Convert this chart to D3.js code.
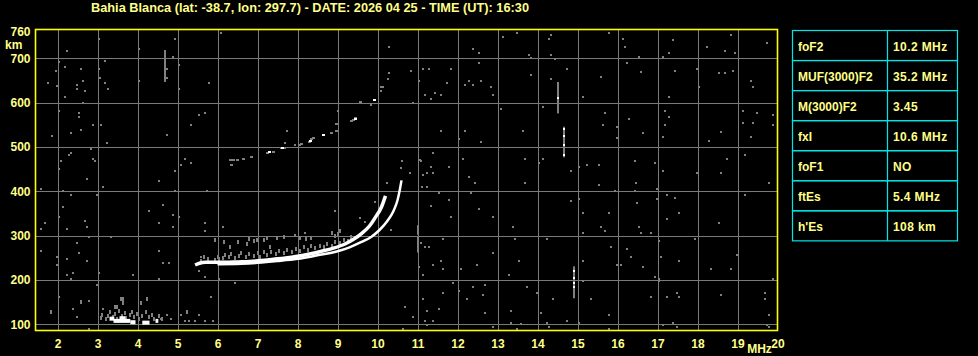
<!DOCTYPE html>
<html>
<head>
<meta charset="utf-8">
<script src="https://cdn.jsdelivr.net/npm/d3@7/dist/d3.min.js"></script>
<style>
    html, body { margin: 0; padding: 0; background: #000; }
    svg { display: block; }
    text { font-family: "Liberation Sans", Arial, sans-serif; font-weight: bold; }
</style>
</head>
<body>
<div id="chart"></div>
<script>
// ---- data ----
const title = 'Bahia Blanca (lat: -38.7, lon: 297.7) - DATE: 2026 04 25 - TIME (UT): 16:30';
const freqTicks = [2, 3, 4, 5, 6, 7, 8, 9, 10, 11, 12, 13, 14, 15, 16, 17, 18, 19, 20];
const heightTicks = [100, 200, 300, 400, 500, 600, 700];
const heightTop = 760;

// ordinary trace (MHz, km)
const oTraceFreq   = [5.44, 5.55, 5.7, 5.9, 6.2, 6.5, 6.8, 7.1, 7.4, 7.7, 8.0, 8.3, 8.6, 8.9, 9.2, 9.4, 9.6, 9.8, 9.95, 10.1, 10.2];
const oTraceHeight = [234, 238, 240, 240, 240, 241, 242, 244, 247, 250, 254, 259, 265, 272, 282, 292, 305, 322, 342, 365, 390];
// extraordinary trace
const xTraceFreq   = [6.0, 6.6, 7.0, 7.5, 8.0, 8.5, 9.0, 9.3, 9.6, 9.85, 10.05, 10.25, 10.4, 10.5, 10.56, 10.6];
const xTraceHeight = [236, 237, 239, 243, 248, 256, 265, 274, 286, 298, 313, 334, 356, 380, 405, 425];

// sporadic E segments [f0, f1, km]
const esSegments = [[3.3, 3.42, 113], [3.4, 3.82, 108], [3.55, 3.7, 114], [3.82, 3.95, 105], [4.12, 4.3, 104], [4.45, 4.52, 108]];
const esEcho = [[3.08,115],[3.12,122],[3.2,112],[3.25,120],[3.3,127],[3.38,116],[3.45,124],[3.5,113],[3.55,130],[3.6,118],
    [3.68,126],[3.72,114],[3.8,122],[3.85,128],[3.92,116],[4.0,124],[4.05,113],[4.12,120],[4.2,128],[4.28,116],[4.35,122],
    [4.42,113],[4.55,118],[4.62,113],[3.59,158],[3.64,158],[3.64,149],[4.24,158],[4.09,149],[3.44,140],[3.49,140]];

// diffuse echo above the F trace
const fSpread = [[5.6,244],[5.65,252],[5.75,248],[5.95,245],[6.0,252],[6.05,248],[6.15,250],[6.2,257],[6.3,252],[6.35,259],
    [6.45,250],[6.55,255],[6.6,261],[6.7,253],[6.8,259],[6.9,255],[7.0,260],[7.05,252],[7.15,263],[7.25,257],[7.35,263],
    [7.45,259],[7.55,265],[7.65,261],[7.75,267],[7.85,263],[7.95,270],[8.05,266],[8.15,274],[8.25,268],[8.35,276],[8.45,272],
    [8.55,278],[8.65,274],[8.75,281],[8.85,277],[8.95,286],[9.05,283],[9.15,291],[9.25,288],[9.35,297],
    [5.94,290],[6.17,286],[6.32,275],[6.52,286],[6.73,281],[6.98,290],[7.15,290],[7.32,275],[7.49,294],[7.65,298],
    [6.8,292],[6.9,288],[7.25,294],[8.05,294],[8.2,292],[8.35,295],[8.95,300],[9.0,305],[9.05,310]];

// second hop echo
const secondHop = [[6.32,471],[6.39,471],[6.34,460],[6.49,471],[6.64,474],[6.86,478],[7.25,487],[7.3,489],[7.4,489],[7.6,497],
    [7.68,499],[8.05,504],[8.1,506],[8.3,512],[8.35,518],[8.4,520],[8.65,527],[8.84,532],[8.98,537],[8.98,553],[9.35,558],
    [9.4,562],[9.45,565],[9.58,602],[9.93,606],[10.11,636]];
const secondHopBright = [[7.3,490],[7.62,498],[8.32,513],[8.66,527],[9.45,564],[9.93,606]];

// vertical interference streaks [MHz, km from, km to]
const streaks = [[4.68,647,719],[14.5,576,647],[14.66,477,546],[14.9,159,231],[11.0,302,324],[11.0,262,298]];
const streakBright = [[14.52,610],[14.66,540],[14.66,524],[14.66,505],[14.66,482],[14.92,220],[14.9,205],[14.92,193],[14.92,185]];

// scattered noise (MHz, km)
const noise = [
    [1.77,644],[1.95,672],[2.03,691],[1.99,638],[2.19,681],[2.23,717],[2.19,613],[2.48,640],[2.48,631],[2.63,650],[2.58,676],
    [2.69,627],[3.03,744],[3.03,676],[3.06,657],[3.18,694],[3.18,645],[3.25,631],[4.03,722],[4.03,650],[4.73,676],[4.73,657],
    [4.88,704],[4.94,744],[5.03,686],[5.03,631],[5.78,645],[6.09,758],[9.02,582],[9.84,595],[10.08,627],[10.14,636],
    [10.25,653],[10.29,668],[10.29,726],
    [14.29,744],[14.34,753],[14.34,708],[14.44,699],[14.74,677],[14.34,653],[13.84,662],[13.84,702],[13.79,708],[14.14,590],
    [15.14,613],[15.59,658],[15.79,757],[16.14,744],[16.19,726],[16.24,690],[16.54,703],[16.59,670],[17.14,703],[17.29,712],
    [17.39,742],[17.44,671],[17.99,677],[18.04,635],[17.29,613],[18.24,726],[18.54,667],[18.69,667],[18.69,717],[18.84,753],
    [18.89,671],[18.94,712],[19.34,649],[19.39,635],[19.74,735],[15.69,577],[15.64,550],[15.99,545],[15.99,521],[16.29,563],
    [16.64,532],[17.19,581],[17.29,568],[17.19,550],[17.14,523],[18.29,514],[18.59,535],[19.14,581],[19.14,554],[19.39,554],
    [19.49,577],[19.34,523],[19.89,572],[19.89,550],[19.19,482],[18.74,473],[16.94,464],[16.44,468],[15.54,460],[15.24,460],
    [15.04,455],[14.14,473],[14.04,464],[13.69,473],[13.64,536],[13.09,586],[13.14,748],[13.49,757],[12.54,712],[12.39,721],
    [12.54,690],[12.29,649],[12.19,640],[12.39,640],[12.59,649],[12.84,635],[12.89,617],[12.19,536],[12.59,511],[12.04,518],
    [12.14,473],[11.59,536],[11.39,486],[11.34,455],[11.09,468],[11.79,455],[11.74,644],[11.84,676],[11.44,622],[11.59,617],
    [11.19,617],[11.34,608],[11.04,649],[10.84,671],[11.14,676],[11.29,676],[10.89,599],
    [10.81,442],[11.13,437],[11.23,442],[11.38,442],[12.29,432],[12.44,419],[13.69,419],[14.84,446],[15.53,415],[16.45,419],
    [17.13,446],[17.98,442],[18.58,442],[19.79,419],[11.23,410],[11.54,397],[11.78,380],[11.33,368],[12.33,397],[12.53,361],
    [11.83,343],[12.88,343],[13.39,320],[14.83,379],[15.03,383],[15.13,352],[15.13,307],[15.59,320],[15.69,311],[15.79,352],
    [15.93,401],[16.44,401],[16.49,374],[16.99,406],[16.99,383],[17.24,392],[17.44,386],[17.54,352],[17.24,338],[16.54,320],
    [16.59,307],[16.84,307],[18.54,329],[19.19,392],[17.04,289],[17.94,293],[18.99,257],[11.63,293],[11.08,284],[11.18,275],
    [11.28,275],[12.88,262],[13.43,293],[14.23,293],[15.83,275],[16.23,271],[16.33,253],[17.08,253],[17.54,243],[16.63,230],
    [18.33,225],[18.83,225],[15.98,234],[16.08,234],[15.13,243],[13.53,243],[12.48,234],[12.08,225],[11.58,243],[11.38,234],
    [11.63,225],[11.13,212],[13.28,212],[16.94,207],[17.04,203],[19.88,203],[15.13,198],[17.04,198],[11.88,194],[12.68,189],
    [12.38,185],[13.73,185],[12.04,176],[11.63,171],[12.63,167],[13.99,171],[14.38,158],[15.33,158],[11.13,158],[12.23,158],
    [17.49,171],[17.54,162],[17.24,162],[16.84,162],[18.59,167],[19.69,171],[19.69,158],[10.69,140],[11.54,135],[11.23,131],
    [12.69,126],[13.33,131],[14.08,126],[15.78,122],[19.78,122],[10.88,117],[11.18,108],[11.38,108],[13.33,104],[13.59,102],
    [14.23,104],[14.74,108],[15.04,104],[17.39,104],[17.13,99],[12.88,95],[13.48,90],[14.28,95],[15.78,90],[17.49,95],
    [19.74,99],[19.79,95],[10.63,90],[11.23,99],
    [1.59,405],[1.86,526],[2.04,582],[2.53,576],[2.53,568],[2.63,600],[2.89,550],[3.09,550],[2.34,532],[2.59,538],[3.24,510],
    [2.84,496],[2.34,487],[2.29,483],[2.09,469],[2.04,451],[2.89,474],[2.94,469],[2.74,428],[3.14,410],[2.14,401],[2.34,392],
    [2.99,392],[2.14,365],[2.04,343],[1.69,329],[2.69,334],[2.74,320],[1.59,316],[2.24,316],[2.79,298],[3.34,298],[2.49,284],
    [2.54,262],[1.59,266],[1.99,253],[2.24,248],[4.74,528],[4.94,447],[5.09,460],[5.19,474],[5.34,465],[5.34,550],[5.54,573],
    [5.69,577],[4.54,424],[4.29,356],[4.64,370],[4.89,347],[5.04,343],[4.54,329],[4.89,320],[5.69,329],[5.69,311],[6.14,320],
    [5.74,401],[4.94,401],[4.54,266],[5.59,253],[7.74,537],[7.69,510],[7.94,505],
    [1.99,234],[2.74,243],[2.24,212],[2.39,216],[2.34,203],[3.04,216],[2.99,189],[3.89,212],[4.54,203],[4.64,239],[4.79,239],
    [2.04,162],[2.59,153],[2.59,149],[2.79,153],[2.39,135],[2.49,117],[1.84,131],[1.84,126],[2.79,90],[3.14,135],[5.84,162],
    [6.04,203],[6.44,194],[5.69,207],[5.54,221],[5.24,131],[5.24,126],[5.54,122],[5.09,122],[4.74,122],[5.19,108],[5.29,108],
    [5.44,108],[5.69,108],[5.89,108],[4.84,113],[4.59,113],
    [8.94,356],[9.57,339],[9.69,331],[9.94,377],[10.23,418],[11.07,471],[11.11,410],[10.34,313],[8.86,309],[8.86,303],
    [8.19,307],[7.94,301],[11.03,230],[10.61,469],[10.59,452]];

// scaled parameters table
const paramNames  = ['foF2', 'MUF(3000)F2', 'M(3000)F2', 'fxI', 'foF1', 'ftEs', "h'Es"];
const paramValues = ['10.2 MHz', '35.2 MHz', '3.45', '10.6 MHz', 'NO', '5.4 MHz', '108 km'];

// ---- drawing ----
const width = 978, height = 356;
const plot = {left: 35.5, right: 777.5, top: 29.5, bottom: 330.5};
const yellow = '#ffff00', labelColor = '#ffff88', gridColor = '#7a7a7a', echoGrey = '#808080', cyan = '#00e6e6';

const svg = d3.select('#chart').append('svg')
    .attr('width', width)
    .attr('height', height)
    .style('background', '#000');

const xScale = d3.scaleLinear().domain([1.45, 20]).range([plot.left, plot.right]);
const yScale = d3.scaleLinear().domain([86.3, 765.3]).range([plot.bottom, plot.top]);

// title
svg.append('text')
    .attr('x', 310)
    .attr('y', 12)
    .attr('text-anchor', 'middle')
    .attr('font-size', 13)
    .attr('textLength', 438)
    .attr('lengthAdjust', 'spacingAndGlyphs')
    .attr('fill', labelColor)
    .text(title);

// grid lines
const xGrid = d3.axisBottom(xScale)
    .tickValues(freqTicks.filter(d => d < 20))
    .tickSize(-(plot.bottom - plot.top))
    .tickFormat('');
svg.append('g')
    .attr('transform', `translate(0, ${plot.bottom})`)
    .call(xGrid)
    .call(g => g.select('.domain').remove())
    .call(g => g.selectAll('line').attr('stroke', gridColor).attr('shape-rendering', 'crispEdges'));

const yGrid = d3.axisLeft(yScale)
    .tickValues(heightTicks)
    .tickSize(-(plot.right - plot.left))
    .tickFormat('');
svg.append('g')
    .attr('transform', `translate(${plot.left}, 0)`)
    .call(yGrid)
    .call(g => g.select('.domain').remove())
    .call(g => g.selectAll('line').attr('stroke', gridColor).attr('shape-rendering', 'crispEdges'));

// tick labels
const xAxis = d3.axisBottom(xScale).tickValues(freqTicks).tickSize(0).tickPadding(9).tickFormat(d3.format('d'));
svg.append('g')
    .attr('transform', `translate(0, ${plot.bottom})`)
    .call(xAxis)
    .call(g => g.select('.domain').remove())
    .call(g => g.selectAll('text')
        .attr('fill', labelColor)
        .attr('font-size', 12)
        .attr('font-family', '"Liberation Sans", Arial, sans-serif')
        .attr('font-weight', 'bold'));

const yAxis = d3.axisLeft(yScale).tickValues(heightTicks.concat([heightTop])).tickSize(0).tickPadding(5).tickFormat(d3.format('d'));
svg.append('g')
    .attr('transform', `translate(${plot.left}, 0)`)
    .call(yAxis)
    .call(g => g.select('.domain').remove())
    .call(g => g.selectAll('text')
        .attr('fill', labelColor)
        .attr('font-size', 12)
        .attr('font-family', '"Liberation Sans", Arial, sans-serif')
        .attr('font-weight', 'bold'));

svg.append('text')
    .attr('x', 5)
    .attr('y', 48.5)
    .attr('font-size', 12)
    .attr('fill', labelColor)
    .text('km');

svg.append('text')
    .attr('x', xScale(19.55))
    .attr('y', 353)
    .attr('text-anchor', 'middle')
    .attr('font-size', 12)
    .attr('fill', labelColor)
    .text('MHz');

// echoes
const echoes = svg.append('g');

function dots(data, color, w, h) {
    echoes.selectAll(null)
        .data(data)
        .enter()
        .append('rect')
        .attr('x', d => Math.round(xScale(d[0]) - w / 2))
        .attr('y', d => Math.round(yScale(d[1]) - h / 2))
        .attr('width', w)
        .attr('height', h)
        .attr('fill', color);
}

dots(noise, echoGrey, 2, 2);
dots(fSpread, echoGrey, 2, 4);
dots(esEcho, echoGrey, 2, 4);
dots(secondHop, echoGrey, 3, 2);

// streaks
echoes.selectAll('.streak')
    .data(streaks)
    .enter()
    .append('rect')
    .attr('class', 'streak')
    .attr('x', d => Math.round(xScale(d[0]) - 1))
    .attr('y', d => yScale(d[2]))
    .attr('width', 2)
    .attr('height', d => yScale(d[1]) - yScale(d[2]))
    .attr('fill', echoGrey);

// traces
const line = d3.line()
    .x(d => xScale(d[0]))
    .y(d => yScale(d[1]))
    .curve(d3.curveMonotoneX);

echoes.append('path')
    .datum(oTraceFreq.map((f, i) => [f, oTraceHeight[i]]))
    .attr('d', line)
    .attr('fill', 'none')
    .attr('stroke', '#fff')
    .attr('stroke-width', 3.5);

echoes.append('path')
    .datum(xTraceFreq.map((f, i) => [f, xTraceHeight[i]]))
    .attr('d', line)
    .attr('fill', 'none')
    .attr('stroke', '#fff')
    .attr('stroke-width', 2.5);

echoes.selectAll('.es')
    .data(esSegments)
    .enter()
    .append('rect')
    .attr('class', 'es')
    .attr('x', d => xScale(d[0]))
    .attr('y', d => yScale(d[2]) - 2)
    .attr('width', d => xScale(d[1]) - xScale(d[0]))
    .attr('height', 4)
    .attr('fill', '#fff');

dots(secondHopBright, '#fff', 3, 2);
dots(streakBright, '#fff', 2, 2);

// frame
svg.append('rect')
    .attr('x', plot.left)
    .attr('y', plot.top)
    .attr('width', plot.right - plot.left)
    .attr('height', plot.bottom - plot.top)
    .attr('fill', 'none')
    .attr('stroke', yellow)
    .attr('stroke-width', 1.6);

// parameter table
const table = {left: 792.5, right: 957.5, top: 30.5, rowHeight: 30.05, split: 887.5};
const rows = svg.append('g')
    .selectAll('g')
    .data(paramNames)
    .enter()
    .append('g')
    .attr('transform', (d, i) => `translate(0, ${table.top + i * table.rowHeight})`);

rows.append('rect')
    .attr('x', table.left)
    .attr('width', table.right - table.left)
    .attr('height', table.rowHeight)
    .attr('fill', 'none')
    .attr('stroke', cyan)
    .attr('stroke-width', 1.2);

rows.append('line')
    .attr('x1', table.split)
    .attr('x2', table.split)
    .attr('y2', table.rowHeight)
    .attr('stroke', cyan)
    .attr('stroke-width', 1.2);

rows.append('text')
    .attr('x', table.left + 5.5)
    .attr('y', 20.3)
    .attr('font-size', 12)
    .attr('fill', labelColor)
    .text(d => d);

rows.append('text')
    .attr('x', table.split + 5.5)
    .attr('y', 20.3)
    .attr('font-size', 12)
    .attr('fill', labelColor)
    .attr('letter-spacing', 0.4)
    .text((d, i) => paramValues[i]);
</script>
</body>
</html>
